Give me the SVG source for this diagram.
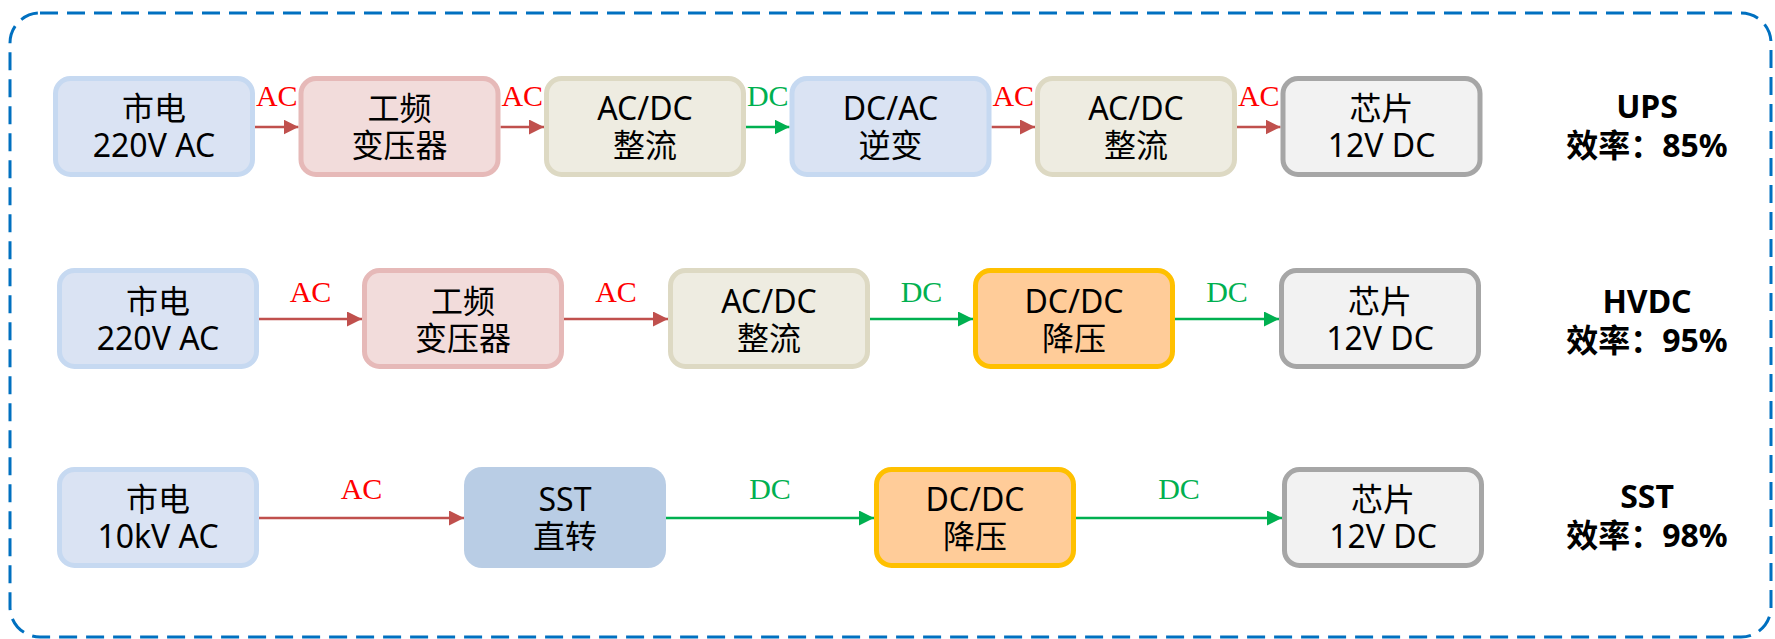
<svg xmlns="http://www.w3.org/2000/svg" width="1775" height="639" viewBox="0 0 1775 639">
<style>
.bx{stroke-width:5}
.grid{fill:#DAE3F3;stroke:#C6D9F1}
.xfm{fill:#F2DCDB;stroke:#E6B9B8}
.rect{fill:#EEECE1;stroke:#DDD9C3}
.chip{fill:#F2F2F2;stroke:#A6A6A6}
.dcdc{fill:#FFCC99;stroke:#FFC000}
.sst{fill:#B9CDE5}
.t{font-family:"Noto Sans","Noto Sans CJK SC",sans-serif;font-size:32px;fill:#000;text-anchor:middle}
.b{font-family:"Noto Sans","Noto Sans CJK SC",sans-serif;font-size:32px;font-weight:bold;fill:#000;text-anchor:middle}
.lac{font-family:"Liberation Serif",serif;font-size:30px;fill:#FF0000;text-anchor:middle}
.ldc{font-family:"Liberation Serif",serif;font-size:30px;fill:#00B050;text-anchor:middle}
.ac{stroke:#C0504D;stroke-width:2.5;fill:none;marker-end:url(#ma)}
.dc{stroke:#00B050;stroke-width:2.5;fill:none;marker-end:url(#md)}
</style>
<defs>
<marker id="ma" markerUnits="userSpaceOnUse" markerWidth="15" markerHeight="15" refX="15" refY="7.5" orient="auto"><path d="M0,0 L15,7.5 L0,15 z" fill="#C0504D"/></marker>
<marker id="md" markerUnits="userSpaceOnUse" markerWidth="15" markerHeight="15" refX="15" refY="7.5" orient="auto"><path d="M0,0 L15,7.5 L0,15 z" fill="#00B050"/></marker>
</defs>
<rect id="frame" x="10" y="13" width="1761" height="624" rx="30" fill="none" stroke="#0070C0" stroke-width="3" stroke-dasharray="18 9"/>

<g id="connectors">
<line class="ac" x1="255" y1="127" x2="298.5" y2="127"/>
<line class="ac" x1="500.5" y1="127" x2="544" y2="127"/>
<line class="dc" x1="746" y1="127" x2="789.5" y2="127"/>
<line class="ac" x1="991.5" y1="127" x2="1035" y2="127"/>
<line class="ac" x1="1237" y1="127" x2="1280.5" y2="127"/>
<text class="lac" x="276.75" y="106">AC</text>
<text class="lac" x="522.25" y="106">AC</text>
<text class="ldc" x="767.75" y="106">DC</text>
<text class="lac" x="1013.25" y="106">AC</text>
<text class="lac" x="1258.75" y="106">AC</text>

<line class="ac" x1="259" y1="319" x2="362" y2="319"/>
<line class="ac" x1="564" y1="319" x2="668" y2="319"/>
<line class="dc" x1="870" y1="319" x2="973" y2="319"/>
<line class="dc" x1="1175" y1="319" x2="1279" y2="319"/>
<text class="lac" x="310.5" y="302">AC</text>
<text class="lac" x="616" y="302">AC</text>
<text class="ldc" x="921.5" y="302">DC</text>
<text class="ldc" x="1227" y="302">DC</text>

<line class="ac" x1="259" y1="518" x2="464" y2="518"/>
<line class="dc" x1="666" y1="518" x2="874" y2="518"/>
<line class="dc" x1="1076" y1="518" x2="1282" y2="518"/>
<text class="lac" x="361.5" y="499">AC</text>
<text class="ldc" x="770" y="499">DC</text>
<text class="ldc" x="1179" y="499">DC</text>
</g>

<!-- Row 1: UPS -->
<g id="ups-grid"><rect class="bx grid" x="55.5" y="78.5" width="197" height="96" rx="15"/><text class="t" x="154" y="120">市电</text><text class="t" x="154" y="157">220V AC</text></g>
<g id="ups-xfm"><rect class="bx xfm" x="301" y="78.5" width="197" height="96" rx="15"/><text class="t" x="399.5" y="120">工频</text><text class="t" x="399.5" y="157">变压器</text></g>
<g id="ups-rect1"><rect class="bx rect" x="546.5" y="78.5" width="197" height="96" rx="15"/><text class="t" x="645" y="120">AC/DC</text><text class="t" x="645" y="157">整流</text></g>
<g id="ups-inv"><rect class="bx grid" x="792" y="78.5" width="197" height="96" rx="15"/><text class="t" x="890.5" y="120">DC/AC</text><text class="t" x="890.5" y="157">逆变</text></g>
<g id="ups-rect2"><rect class="bx rect" x="1037.5" y="78.5" width="197" height="96" rx="15"/><text class="t" x="1136" y="120">AC/DC</text><text class="t" x="1136" y="157">整流</text></g>
<g id="ups-chip"><rect class="bx chip" x="1283" y="78.5" width="197" height="96" rx="15"/><text class="t" x="1381.5" y="120">芯片</text><text class="t" x="1381.5" y="157">12V DC</text></g>
<g id="ups-eff"><text class="b" x="1647" y="118">UPS</text><text class="b" x="1647" y="157">效率：85%</text></g>

<!-- Row 2: HVDC -->
<g id="hvdc-grid"><rect class="bx grid" x="59.5" y="270.5" width="197" height="96" rx="15"/><text class="t" x="158" y="312.5">市电</text><text class="t" x="158" y="349.5">220V AC</text></g>
<g id="hvdc-xfm"><rect class="bx xfm" x="364.5" y="270.5" width="197" height="96" rx="15"/><text class="t" x="463" y="312.5">工频</text><text class="t" x="463" y="349.5">变压器</text></g>
<g id="hvdc-rect"><rect class="bx rect" x="670.5" y="270.5" width="197" height="96" rx="15"/><text class="t" x="769" y="312.5">AC/DC</text><text class="t" x="769" y="349.5">整流</text></g>
<g id="hvdc-dcdc"><rect class="bx dcdc" x="975.5" y="270.5" width="197" height="96" rx="15"/><text class="t" x="1074" y="312.5">DC/DC</text><text class="t" x="1074" y="349.5">降压</text></g>
<g id="hvdc-chip"><rect class="bx chip" x="1281.5" y="270.5" width="197" height="96" rx="15"/><text class="t" x="1380" y="312.5">芯片</text><text class="t" x="1380" y="349.5">12V DC</text></g>
<g id="hvdc-eff"><text class="b" x="1647" y="313">HVDC</text><text class="b" x="1647" y="352">效率：95%</text></g>

<!-- Row 3: SST -->
<g id="sst-grid"><rect class="bx grid" x="59.5" y="469.5" width="197" height="96" rx="15"/><text class="t" x="158" y="511">市电</text><text class="t" x="158" y="548">10kV AC</text></g>
<g id="sst-sst"><rect class="sst" x="464" y="467" width="202" height="101" rx="18"/><text class="t" x="565" y="511">SST</text><text class="t" x="565" y="548">直转</text></g>
<g id="sst-dcdc"><rect class="bx dcdc" x="876.5" y="469.5" width="197" height="96" rx="15"/><text class="t" x="975" y="511">DC/DC</text><text class="t" x="975" y="548">降压</text></g>
<g id="sst-chip"><rect class="bx chip" x="1284.5" y="469.5" width="197" height="96" rx="15"/><text class="t" x="1383" y="511">芯片</text><text class="t" x="1383" y="548">12V DC</text></g>
<g id="sst-eff"><text class="b" x="1647" y="508">SST</text><text class="b" x="1647" y="547">效率：98%</text></g>
</svg>
